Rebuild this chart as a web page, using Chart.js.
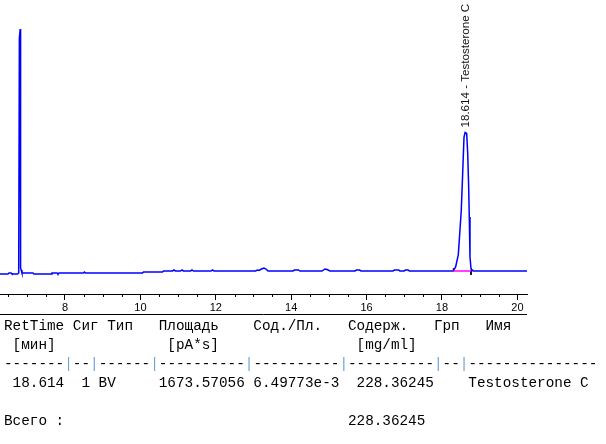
<!DOCTYPE html>
<html>
<head>
<meta charset="utf-8">
<script src="https://cdn.jsdelivr.net/npm/chart.js@4.4.1/dist/chart.umd.min.js"></script>
<style>
  html, body { margin: 0; padding: 0; background: #fff; }
  #wrap { position: relative; width: 606px; height: 444px; overflow: hidden; }
  #report {
    position: absolute; left: 4px; top: 317px; margin: 0;
    font: 14.33px/19px "Liberation Mono", "Courier New", monospace;
    color: #000; white-space: pre;
  }
  #report .sep { color: #6fa3d6; }
</style>
</head>
<body>
<div id="wrap">
  <canvas id="chrom" width="606" height="444"></canvas>
  <pre id="report"></pre>
</div>
<script>
// сигнал FID: время удерживания (мин) и отклик (pA)
const retTime = [
  6.276, 6.488, 6.515, 6.568, 6.594, 6.740, 6.772, 6.790, 6.812, 6.822, 6.838, 6.859,
  7.151, 7.178, 7.629, 7.655, 7.788, 7.814, 7.841, 8.491, 8.517, 8.544,
  10.056, 10.082, 10.586, 10.613, 10.851, 10.891, 10.931, 11.064, 11.103, 11.143,
  11.329, 11.369, 11.408, 11.873, 11.912, 11.952,
  13.053, 13.106, 13.146, 13.212, 13.279, 13.332, 13.385,
  14.048, 14.088, 14.194, 14.233, 14.817, 14.896, 14.950, 15.029,
  15.692, 15.732, 15.811, 15.851, 16.700, 16.740, 16.846, 16.886,
  16.992, 17.032, 17.098, 17.138,
  18.300, 18.363, 18.432, 18.477, 18.512, 18.549, 18.584, 18.614, 18.655, 18.682,
  18.708, 18.724, 18.743, 18.769, 18.788, 18.809, 18.836, 20.255
];
const signal = [
  -3, -3, -2, -2, -3, -3, -2, 233, 242, 3, 1, -2,
  -2, -3, -3, -2, -2, -3, -2, -2, -1, -2,
  -2, -1, -1, 0, 0, 1, 0, 0, 1, 0,
  0, 1, 0, 0, 1, 0,
  0, 1, 0.5, 2, 3, 2, 0,
  0, 1, 1, 0, 0, 2, 1.5, 0,
  0, 1, 1, 0, 0, 1, 1, 0,
  0, 1, 1, 0,
  0, 4.3, 16, 41, 61, 98, 134, 138.5, 137.5, 118,
  84, 54, 14, 2.7, 0, 1, 0, 0
];

// интегрирование пика
const peakRT = 18.614;
const peakTop = 138.5;
const peakName = 'Testosterone C';
const intStart = 18.300;
const intEnd = 18.769;

// ось X
const xMin = 6.276;
const xMax = 20.255;
const xTicks = [8, 10, 12, 14, 16, 18, 20];
const xMinorStep = 0.5;

// отчёт
const reportHeader = [[0, 'RetTime'], [8, 'Сиг'], [12, 'Тип'], [18, 'Площадь'], [29, 'Сод./Пл.'], [40, 'Содерж.'], [50, 'Грп'], [56, 'Имя']];
const reportUnits = [[1, '[мин]'], [19, '[pA*s]'], [41, '[mg/ml]']];
const reportRule = '-------|--|------|----------|----------|----------|--|---------------';
const reportPeak = [[1, '18.614'], [9, '1'], [11, 'BV'], [18, '1673.57056'], [29, '6.49773e-3'], [41, '228.36245'], [54, 'Testosterone C']];
const reportTotal = [[0, 'Всего :'], [40, '228.36245']];

function atCols(cells) {
  let s = '';
  cells.forEach(([c, t]) => { s = s.padEnd(c) + t; });
  return s;
}

const lines = [
  atCols(reportHeader),
  atCols(reportUnits),
  reportRule.replace(/\|/g, '<span class="sep">|</span>'),
  atCols(reportPeak),
  '',
  atCols(reportTotal)
];
document.getElementById('report').innerHTML = lines.join('\n');

// доп. отрисовка: мелкие деления, нижняя линия, подпись пика
const extras = {
  id: 'extras',
  afterDraw(chart) {
    const ctx = chart.ctx;
    const x = chart.scales.x;
    const y = chart.scales.y;
    const axisY = chart.chartArea.bottom;
    ctx.save();
    ctx.strokeStyle = '#000';
    ctx.lineWidth = 1;
    ctx.beginPath();
    for (let v = Math.ceil(xMin / xMinorStep) * xMinorStep; v <= xMax; v += xMinorStep) {
      if (xTicks.includes(v)) continue;
      const px = Math.round(x.getPixelForValue(v)) + 0.5;
      ctx.moveTo(px, axisY);
      ctx.lineTo(px, axisY + 3);
    }
    ctx.moveTo(x.left, axisY + 20.5);
    ctx.lineTo(x.right, axisY + 20.5);
    ctx.stroke();

    // подпись пика, повернута вертикально
    ctx.translate(x.getPixelForValue(peakRT) + 4, y.getPixelForValue(peakTop) - 5);
    ctx.rotate(-Math.PI / 2);
    ctx.fillStyle = '#111';
    ctx.font = '11.6px "Liberation Sans", Arial, sans-serif';
    ctx.textAlign = 'left';
    ctx.textBaseline = 'alphabetic';
    ctx.fillText(peakRT.toFixed(3) + ' - ' + peakName, 0, 0);
    ctx.restore();
  }
};

const ctx = document.getElementById('chrom').getContext('2d');
const chart = new Chart(ctx, {
  type: 'line',
  data: {
    datasets: [
      {
        // базовая линия интегрирования
        data: [{ x: intStart, y: 0 }, { x: intEnd, y: 0 }],
        borderColor: '#ff00ff',
        borderWidth: 1.5,
        pointRadius: 0
      },
      {
        data: [{ x: intStart, y: 0 }, { x: intStart, y: 3 }],
        borderColor: '#000',
        borderWidth: 1,
        pointRadius: 0
      },
      {
        data: [{ x: intEnd, y: 0 }, { x: intEnd, y: -4 }],
        borderColor: '#000',
        borderWidth: 1,
        pointRadius: 0
      },
      {
        label: 'FID1 A',
        data: retTime.map((t, i) => ({ x: t, y: signal[i] })),
        borderColor: '#0000ff',
        borderWidth: 1.5,
        pointRadius: 0,
        tension: 0
      }
    ]
  },
  options: {
    responsive: false,
    animation: false,
    layout: { padding: { left: 0, right: 79, top: 0, bottom: 0 } },
    plugins: { legend: { display: false }, tooltip: { enabled: false } },
    scales: {
      x: {
        type: 'linear',
        min: xMin,
        max: xMax,
        afterBuildTicks: (scale) => { scale.ticks = xTicks.map(v => ({ value: v })); },
        afterFit: (scale) => { scale.height = 150; },
        grid: { drawOnChartArea: false, drawTicks: true, tickLength: 6, color: '#000' },
        border: { display: true, color: '#000', width: 1 },
        ticks: {
          padding: 1,
          maxRotation: 0,
          autoSkip: false,
          color: '#000',
          font: { family: '"Liberation Sans", Arial, sans-serif', size: 11 }
        }
      },
      y: {
        display: false,
        min: -23,
        max: 271
      }
    }
  },
  plugins: [extras]
});
</script>
</body>
</html>
